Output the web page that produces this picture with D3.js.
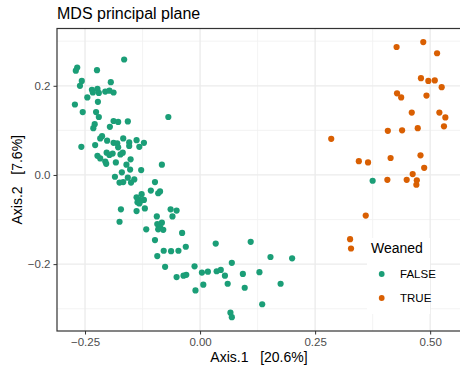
<!DOCTYPE html>
<html>
<head>
<meta charset="utf-8">
<script src="https://cdn.jsdelivr.net/npm/d3@7"></script>
<style>
  body { margin: 0; background: #fff; }
  svg { display: block; font-family: 'Liberation Sans', Arial, sans-serif; }
</style>
</head>
<body>
<div id="chart"></div>
<script>
// MDS coordinates, [Axis.1, Axis.2]
var weanedFalse = [
  [-0.165, 0.259], [-0.267, 0.241], [-0.270, 0.234], [-0.224, 0.235], [-0.257, 0.211],
  [-0.261, 0.200], [-0.194, 0.208], [-0.235, 0.191], [-0.233, 0.185], [-0.223, 0.193],
  [-0.220, 0.184], [-0.206, 0.187], [-0.197, 0.189], [-0.188, 0.185], [-0.245, 0.174],
  [-0.222, 0.164], [-0.272, 0.158], [-0.255, 0.141], [-0.226, 0.141], [-0.220, 0.130],
  [-0.069, 0.130], [-0.188, 0.121], [-0.178, 0.119], [-0.157, 0.120], [-0.229, 0.114],
  [-0.232, 0.105], [-0.196, 0.108], [-0.213, 0.087], [-0.217, 0.082], [-0.202, 0.077],
  [-0.167, 0.082], [-0.188, 0.072], [-0.180, 0.071], [-0.178, 0.062], [-0.154, 0.073],
  [-0.154, 0.065], [-0.138, 0.078], [-0.122, 0.072], [-0.132, 0.063], [-0.258, 0.063],
  [-0.228, 0.067], [-0.223, 0.043], [-0.217, 0.037], [-0.203, 0.050], [-0.197, 0.045],
  [-0.190, 0.048], [-0.173, 0.046], [-0.168, 0.050], [-0.206, 0.030], [-0.204, 0.025],
  [-0.183, 0.028], [-0.160, 0.023], [-0.151, 0.035], [-0.083, 0.023], [-0.170, 0.006],
  [-0.185, -0.004], [-0.152, 0.012], [-0.128, 0.011], [-0.175, -0.017], [-0.167, -0.016],
  [-0.157, -0.006], [-0.150, -0.017], [-0.143, -0.010], [-0.098, -0.016], [-0.107, -0.035],
  [-0.087, -0.037], [-0.091, -0.041], [-0.127, -0.043], [-0.138, -0.050], [-0.132, -0.056],
  [-0.136, -0.061], [-0.127, -0.057], [-0.132, -0.064], [-0.122, -0.056], [-0.172, -0.077],
  [-0.138, -0.081], [-0.120, -0.075], [-0.064, -0.077], [-0.051, -0.080], [-0.060, -0.093],
  [-0.094, -0.093], [-0.175, -0.105], [-0.083, -0.107], [-0.093, -0.110], [-0.087, -0.117],
  [-0.091, -0.122], [-0.080, -0.123], [-0.117, -0.122], [-0.039, -0.130], [-0.098, -0.146],
  [0.034, -0.154], [0.110, -0.150], [-0.031, -0.161], [-0.079, -0.170], [-0.063, -0.171],
  [-0.047, -0.170], [-0.093, -0.182], [0.153, -0.184], [0.200, -0.187], [0.069, -0.197],
  [-0.076, -0.206], [-0.012, -0.205], [0.004, -0.219], [0.017, -0.217], [0.036, -0.216],
  [0.045, -0.213], [0.093, -0.222], [0.129, -0.218], [0.054, -0.226], [-0.051, -0.229],
  [-0.036, -0.226], [-0.030, -0.224], [0.060, -0.244], [0.007, -0.246], [0.097, -0.253],
  [0.175, -0.244], [-0.010, -0.259], [0.135, -0.290], [0.066, -0.309], [0.069, -0.319],
  [0.375, -0.013]
];

var weanedTrue = [
  [0.427, 0.287], [0.485, 0.298], [0.515, 0.273], [0.480, 0.217], [0.496, 0.211],
  [0.510, 0.212], [0.525, 0.197], [0.428, 0.183], [0.437, 0.174], [0.492, 0.178],
  [0.460, 0.140], [0.520, 0.140], [0.533, 0.129], [0.530, 0.109], [0.408, 0.099],
  [0.439, 0.100], [0.473, 0.105], [0.285, 0.081], [0.345, 0.031], [0.365, 0.028],
  [0.414, 0.038], [0.479, 0.044], [0.487, 0.016], [0.462, 0.002], [0.407, -0.011],
  [0.449, -0.011], [0.471, -0.012], [0.470, -0.022], [0.360, -0.091], [0.326, -0.144],
  [0.328, -0.165]
];

var groups = ['FALSE', 'TRUE'];
var groupColors = ['#1b9e77', '#d95f02'];
var xTicks = [-0.25, 0, 0.25, 0.5];
var xMinor = [-0.125, 0.125, 0.375];
var yTicks = [-0.2, 0, 0.2];
var yMinor = [-0.3, -0.1, 0.1, 0.3];

var W = 460, H = 365;
var panel = { left: 57, right: 461, top: 28.5, bottom: 331 };

var svg = d3.select('#chart').append('svg')
  .attr('width', W)
  .attr('height', H);

var x = d3.scaleLinear()
  .domain([-0.3109, 0.567])
  .range([panel.left, panel.right]);

var y = d3.scaleLinear()
  .domain([-0.35, 0.3285])
  .range([panel.bottom, panel.top]);

var color = d3.scaleOrdinal().domain(groups).range(groupColors);

// grid
var grid = svg.append('g');
grid.selectAll('.xminor').data(xMinor).enter().append('line')
  .attr('x1', function(d) { return x(d); }).attr('x2', function(d) { return x(d); })
  .attr('y1', panel.top).attr('y2', panel.bottom)
  .attr('stroke', '#f0f0f0').attr('stroke-width', 0.8);
grid.selectAll('.yminor').data(yMinor).enter().append('line')
  .attr('y1', function(d) { return y(d); }).attr('y2', function(d) { return y(d); })
  .attr('x1', panel.left).attr('x2', panel.right)
  .attr('stroke', '#f0f0f0').attr('stroke-width', 0.8);
grid.selectAll('.xmajor').data(xTicks).enter().append('line')
  .attr('x1', function(d) { return x(d); }).attr('x2', function(d) { return x(d); })
  .attr('y1', panel.top).attr('y2', panel.bottom)
  .attr('stroke', '#ebebeb').attr('stroke-width', 1.3);
grid.selectAll('.ymajor').data(yTicks).enter().append('line')
  .attr('y1', function(d) { return y(d); }).attr('y2', function(d) { return y(d); })
  .attr('x1', panel.left).attr('x2', panel.right)
  .attr('stroke', '#ebebeb').attr('stroke-width', 1.3);

// points
var series = [
  { key: 'FALSE', values: weanedFalse },
  { key: 'TRUE', values: weanedTrue }
];
series.forEach(function(s) {
  svg.append('g').selectAll('circle')
    .data(s.values)
    .enter().append('circle')
      .attr('cx', function(d) { return x(d[0]); })
      .attr('cy', function(d) { return y(d[1]); })
      .attr('r', 3.1)
      .attr('fill', color(s.key));
});

// axes
var xAxis = d3.axisBottom(x)
  .tickValues(xTicks)
  .tickFormat(d3.format('.2f'))
  .tickSize(3.5)
  .tickPadding(3);
var gx = svg.append('g')
  .attr('transform', 'translate(0,' + panel.bottom + ')')
  .call(xAxis);

var yAxis = d3.axisLeft(y)
  .tickValues(yTicks)
  .tickFormat(d3.format('.1f'))
  .tickSize(3.5)
  .tickPadding(3);
var gy = svg.append('g')
  .attr('transform', 'translate(' + panel.left + ',0)')
  .call(yAxis);

[gx, gy].forEach(function(g) {
  g.select('.domain').remove();
  g.selectAll('.tick line').attr('stroke', '#333').attr('stroke-width', 1);
  g.selectAll('.tick text')
    .attr('fill', '#4d4d4d')
    .style('font-size', '11.5px')
    .style('font-family', "'Liberation Sans', Arial, sans-serif");
});

// panel border
svg.append('rect')
  .attr('x', panel.left)
  .attr('y', panel.top)
  .attr('width', panel.right - panel.left)
  .attr('height', panel.bottom - panel.top)
  .attr('fill', 'none')
  .attr('stroke', '#333')
  .attr('stroke-width', 1.2);

// legend (inside the panel)
var legend = svg.append('g').attr('transform', 'translate(367,238)');
legend.append('rect')
  .attr('width', 63)
  .attr('height', 76)
  .attr('fill', '#fff');
legend.append('text')
  .attr('x', 4)
  .attr('y', 15)
  .style('font-size', '14px')
  .text('Weaned');
var keys = legend.selectAll('.key')
  .data(groups)
  .enter().append('g')
    .attr('transform', function(d, i) { return 'translate(0,' + (36 + i * 24) + ')'; });
keys.append('circle')
  .attr('cx', 14.7)
  .attr('cy', 0)
  .attr('r', 2.9)
  .attr('fill', function(d) { return color(d); });
keys.append('text')
  .attr('x', 33)
  .attr('y', 4.3)
  .style('font-size', '11.5px')
  .text(function(d) { return d; });

// titles
svg.append('text')
  .attr('x', 57)
  .attr('y', 18.5)
  .style('font-size', '16px')
  .text('MDS principal plane');

svg.append('text')
  .attr('x', (panel.left + panel.right) / 2)
  .attr('y', 362)
  .attr('text-anchor', 'middle')
  .style('font-size', '14px')
  .style('white-space', 'pre')
  .text('Axis.1   [20.6%]');

svg.append('text')
  .attr('transform', 'translate(22,' + ((panel.top + panel.bottom) / 2) + ') rotate(-90)')
  .attr('text-anchor', 'middle')
  .style('font-size', '14px')
  .style('white-space', 'pre')
  .text('Axis.2   [7.6%]');
</script>
</body>
</html>
